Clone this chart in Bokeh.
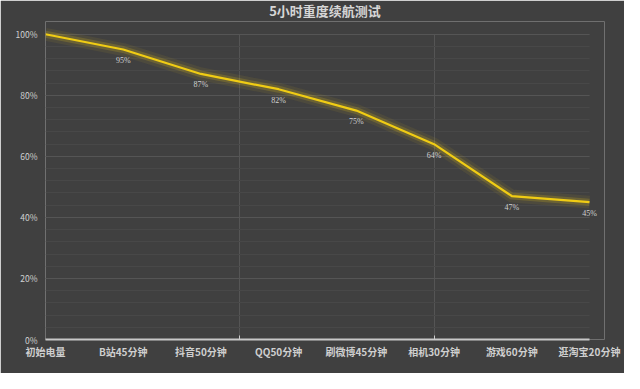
from bokeh.plotting import figure
from bokeh.models import FixedTicker, ColumnDataSource, Range1d, LabelSet
from bokeh.embed import file_html
from bokeh.resources import INLINE

title = "5小时重度续航测试"
categories = ["初始电量", "B站45分钟", "抖音50分钟", "QQ50分钟", "刷微博45分钟", "相机30分钟", "游戏60分钟", "逛淘宝20分钟"]
battery = [100, 95, 87, 82, 75, 64, 47, 45]
y_ticks = [0, 20, 40, 60, 80, 100]

FONT = "Noto Sans CJK SC"
BG = "#404040"

xs = list(range(len(categories)))
last = xs[-1]
src = ColumnDataSource(dict(x=xs, y=battery))
# the starting point carries no data label in the reference
lab_src = ColumnDataSource(dict(x=xs[1:], y=battery[1:], label=[f"{v}%" for v in battery[1:]]))

p = figure(width=624, height=373, output_backend="svg", toolbar_location=None,
           x_range=Range1d(0, 7.193), y_range=Range1d(0, 104.18),
           background_fill_color=BG, border_fill_color=BG, outline_line_color=None,
           min_border_left=45, min_border_right=20, min_border_top=0, min_border_bottom=34)

p.title.text = title
p.title.align = "center"
p.title.vertical_align = "top"
p.title.offset = -12
p.title.standoff = 0
p.title.text_color = "#d6d6d6"
p.title.text_font = FONT
p.title.text_font_size = "13px"
p.title.text_font_style = "bold"

# grids (horizontal lines stop at the last category, vertical ones at 100%)
p.ygrid.ticker = FixedTicker(ticks=y_ticks, minor_ticks=list(range(0, 101, 4)))
p.ygrid.cross_bounds = (0, last)
p.ygrid.grid_line_color = "#555555"
p.ygrid.grid_line_width = 1
p.ygrid.minor_grid_line_color = "#484848"
p.ygrid.minor_grid_line_width = 1
p.xgrid.ticker = FixedTicker(ticks=[0, 2.5, 5])
p.xgrid.cross_bounds = (0, max(y_ticks))
p.xgrid.grid_line_color = "#555555"

# x axis
p.xaxis.bounds = (0, last)
p.xaxis.ticker = FixedTicker(ticks=xs, minor_ticks=[2.5, 5])
p.xaxis.major_label_overrides = {i: c for i, c in enumerate(categories)}
p.xaxis.major_tick_line_color = None
p.xaxis.major_tick_out = 0
p.xaxis.major_tick_in = 0
p.xaxis.minor_tick_line_color = "#cccccc"
p.xaxis.minor_tick_out = 0
p.xaxis.minor_tick_in = 4
p.xaxis.axis_line_color = "#c8c8c8"
p.xaxis.axis_line_width = 2
p.xaxis.major_label_text_color = "#cfcfcf"
p.xaxis.major_label_text_font = FONT
p.xaxis.major_label_text_font_size = "10px"
p.xaxis.major_label_text_font_style = "bold"
p.xaxis.major_label_standoff = 4

# y axis
p.yaxis.ticker = FixedTicker(ticks=y_ticks)
p.yaxis.major_label_overrides = {t: f"{t}%" for t in y_ticks}
p.yaxis.axis_line_color = None
p.yaxis.major_tick_line_color = None
p.yaxis.major_tick_out = 0
p.yaxis.major_tick_in = 0
p.yaxis.minor_tick_line_color = None
p.yaxis.major_label_text_color = "#d0d0d0"
p.yaxis.major_label_text_font = FONT
p.yaxis.major_label_text_font_size = "8.5px"
p.yaxis.major_label_standoff = 8

# glow + line
p.line("x", "y", source=src, line_color="#e8c51a", line_width=13, line_alpha=0.08, line_join="round")
p.line("x", "y", source=src, line_color="#e8c51a", line_width=7, line_alpha=0.2, line_join="round")
p.line("x", "y", source=src, line_color="#f0cc14", line_width=2.2, line_join="round")

labels = LabelSet(x="x", y="y", text="label", source=lab_src, text_color="#d0d0d0",
                  text_font=FONT, text_font_size="8px", text_align="center",
                  text_baseline="middle", y_offset=-11)
p.add_layout(labels)

open("out.html", "w").write(file_html(p, INLINE))
